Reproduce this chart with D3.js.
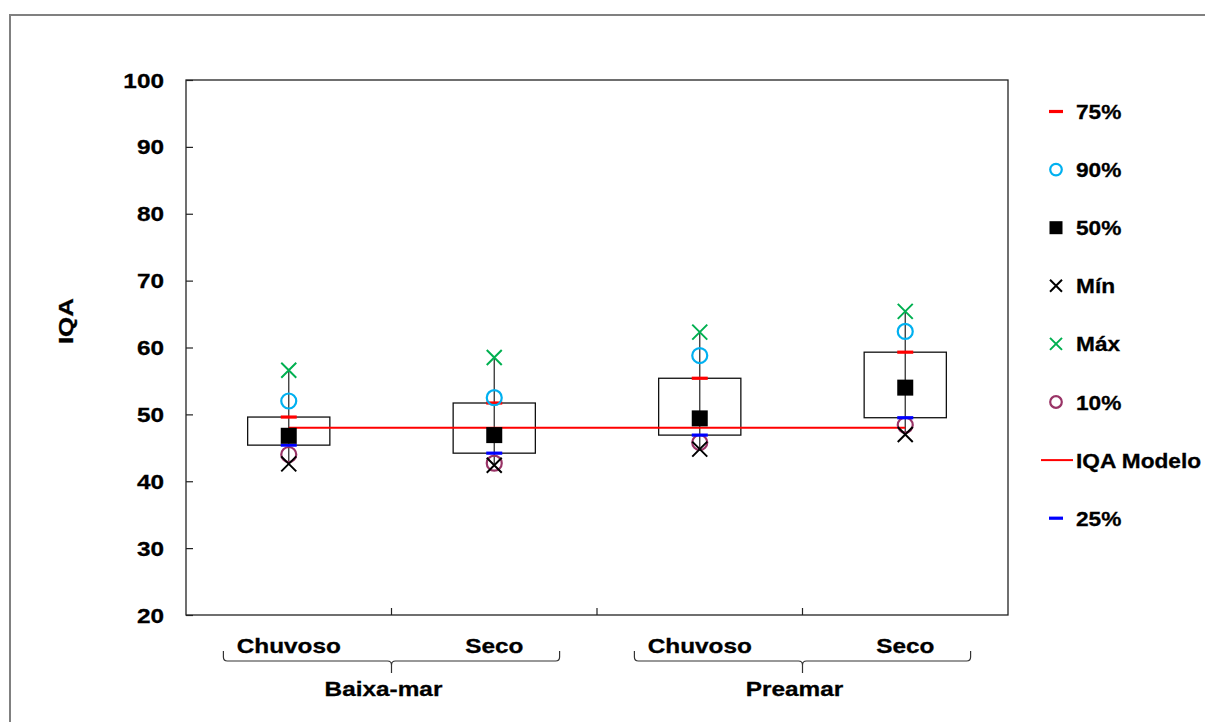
<!DOCTYPE html>
<html>
<head>
<meta charset="utf-8">
<script src="https://cdn.jsdelivr.net/npm/d3@7/dist/d3.min.js"></script>
<style>
  html, body { margin: 0; padding: 0; background: #ffffff; }
  svg { display: block; }
  text { font-family: "Liberation Sans", Arial, sans-serif; font-weight: bold; fill: #000;
         stroke: #000; stroke-width: 0.3px; }
</style>
</head>
<body>
<svg id="chart" width="1205" height="722"></svg>
<script>
// Seasons per tide condition
const categories = ["Chuvoso", "Seco", "Chuvoso", "Seco"];
const groups = ["Baixa-mar", "Preamar"];
const yTicks = [20, 30, 40, 50, 60, 70, 80, 90, 100];

// Percentile statistics of IQA for each season
const p75 = [49.6, 51.7, 55.4, 59.3];
const p90 = [52.0, 52.5, 58.8, 62.4];
const p50 = [46.8, 46.9, 49.4, 54.0];
const vMin = [42.6, 42.4, 44.8, 47.0];
const vMax = [56.6, 58.5, 62.3, 65.4];
const p10 = [44.0, 42.7, 45.8, 48.4];
const p25 = [45.4, 44.2, 46.9, 49.5];
const iqaModelo = 48.0;

const legendItems = ["75%", "90%", "50%", "Mín", "Máx", "10%", "IQA Modelo", "25%"];

const svg = d3.select("#chart");
const TX = 1.16; // horizontal stretch of labels
const FS = 21;

// outer frame
svg.append("rect")
  .attr("x", 10).attr("y", 15).attr("width", 1300).attr("height", 800)
  .attr("fill", "none").attr("stroke", "#808080").attr("stroke-width", 2);

const plotL = 186, plotR = 1008, plotT = 80, plotB = 615;
const idx = d3.range(categories.length);
const x = d3.scaleBand().domain(idx).range([plotL, plotR]).padding(0);
const y = d3.scaleLinear().domain([20, 100]).range([plotB, plotT]);
const cx = i => x(i) + x.bandwidth() / 2;

// plot frame
svg.append("rect")
  .attr("x", plotL).attr("y", plotT).attr("width", plotR - plotL).attr("height", plotB - plotT)
  .attr("fill", "none").attr("stroke", "#222").attr("stroke-width", 1.3);

// y axis with inward ticks
const yAxis = svg.append("g").attr("transform", `translate(${plotL},0)`)
  .call(d3.axisRight(y).tickValues(yTicks).tickSize(7).tickFormat(""));
yAxis.select(".domain").remove();
yAxis.selectAll("line").attr("stroke", "#222").attr("stroke-width", 1.2);

yTicks.forEach(t => {
  svg.append("g").attr("transform", `translate(164,${y(t)}) scale(${TX},1)`)
    .append("text").attr("text-anchor", "end").attr("dy", "0.36em")
    .attr("font-size", FS).text(t);
});

// y title
svg.append("g").attr("transform", "translate(66,321) rotate(-90) scale(1.3,1)")
  .append("text").attr("text-anchor", "middle").attr("dy", "0.36em")
  .attr("font-size", 20).text("IQA");

// x ticks at category boundaries, pointing up
idx.slice(1).forEach(i => {
  svg.append("line")
    .attr("x1", x(i)).attr("x2", x(i)).attr("y1", plotB).attr("y2", plotB - 7)
    .attr("stroke", "#222").attr("stroke-width", 1.2);
});

// category labels
idx.forEach(i => {
  svg.append("g").attr("transform", `translate(${cx(i)},653) scale(${TX},1)`)
    .append("text").attr("text-anchor", "middle").attr("font-size", FS).text(categories[i]);
});

// group braces and labels
groups.forEach((g, gi) => {
  const mid = x(gi * 2 + 1);
  const half = x.bandwidth() * 0.818;
  const x0 = mid - half, x1 = mid + half;
  const yb = 661, r = 4;
  const path = d3.path();
  path.moveTo(x0, 651);
  path.lineTo(x0, yb - r);
  path.quadraticCurveTo(x0, yb, x0 + r, yb);
  path.lineTo(mid - r, yb);
  path.quadraticCurveTo(mid, yb, mid, yb + r);
  path.lineTo(mid, 673);
  path.moveTo(mid, yb + r);
  path.quadraticCurveTo(mid, yb, mid + r, yb);
  path.lineTo(x1 - r, yb);
  path.quadraticCurveTo(x1, yb, x1, yb - r);
  path.lineTo(x1, 651);
  svg.append("path").attr("d", path.toString())
    .attr("fill", "none").attr("stroke", "#333").attr("stroke-width", 1.2);
  svg.append("g").attr("transform", `translate(${mid - 8},696) scale(${TX},1)`)
    .append("text").attr("text-anchor", "middle").attr("font-size", FS).text(g);
});

const bw = x.bandwidth() * 0.4;

// boxes (25% - 75%)
svg.append("g").selectAll("rect").data(idx).join("rect")
  .attr("x", i => cx(i) - bw / 2).attr("width", bw)
  .attr("y", i => y(p75[i])).attr("height", i => y(p25[i]) - y(p75[i]))
  .attr("fill", "none").attr("stroke", "#111").attr("stroke-width", 1.3);

// whiskers min - max
svg.append("g").selectAll("line").data(idx).join("line")
  .attr("x1", cx).attr("x2", cx)
  .attr("y1", i => y(vMin[i])).attr("y2", i => y(vMax[i]))
  .attr("stroke", "#333").attr("stroke-width", 1.3);

// IQA model reference line
svg.append("line")
  .attr("x1", cx(0)).attr("x2", cx(idx.length - 1))
  .attr("y1", y(iqaModelo)).attr("y2", y(iqaModelo))
  .attr("stroke", "#ff0000").attr("stroke-width", 2.2);

// marker helpers
function dash(g, px, py, w, color) {
  g.append("line").attr("x1", px - w / 2).attr("x2", px + w / 2)
    .attr("y1", py).attr("y2", py).attr("stroke", color).attr("stroke-width", 3.2);
}
function ring(g, px, py, r, color) {
  g.append("circle").attr("cx", px).attr("cy", py).attr("r", r)
    .attr("fill", "none").attr("stroke", color).attr("stroke-width", 2.2);
}
function square(g, px, py, s) {
  g.append("rect").attr("x", px - s / 2).attr("y", py - s / 2)
    .attr("width", s).attr("height", s).attr("fill", "#000");
}
function cross(g, px, py, s, color) {
  const h = s / 2;
  g.append("path").attr("d", `M${px - h},${py - h}L${px + h},${py + h}M${px - h},${py + h}L${px + h},${py - h}`)
    .attr("stroke", color).attr("stroke-width", 2).attr("fill", "none");
}

const C75 = "#ff0000", C25 = "#0000ff", C90 = "#00b0f0", CMAX = "#00b050", C10 = "#993366", CMIN = "#000000";
const marks = svg.append("g");
idx.forEach(i => {
  const px = cx(i);
  ring(marks, px, y(p10[i]), 7.5, C10);
  cross(marks, px, y(vMin[i]), 15, CMIN);
  dash(marks, px, y(p25[i]), 16, C25);
  square(marks, px, y(p50[i]), 16);
  dash(marks, px, y(p75[i]), 16, C75);
  ring(marks, px, y(p90[i]), 7.5, C90);
  cross(marks, px, y(vMax[i]), 15, CMAX);
});

// legend
const legend = svg.append("g");
legendItems.forEach((name, k) => {
  const ly = 111.5 + k * 58.1;
  const lx = 1056;
  if (name === "75%") dash(legend, lx, ly, 14, C75);
  if (name === "25%") dash(legend, lx, ly, 14, C25);
  if (name === "90%") ring(legend, lx, ly, 5.8, C90);
  if (name === "10%") ring(legend, lx, ly, 5.8, C10);
  if (name === "50%") square(legend, lx, ly, 13);
  if (name === "Mín") cross(legend, lx, ly, 12, CMIN);
  if (name === "Máx") cross(legend, lx, ly, 12, CMAX);
  if (name === "IQA Modelo") legend.append("line").attr("x1", 1041).attr("x2", 1073)
    .attr("y1", ly).attr("y2", ly).attr("stroke", C75).attr("stroke-width", 2);
  legend.append("g").attr("transform", `translate(1076,${ly}) scale(1.08,1)`)
    .append("text").attr("dy", "0.36em").attr("font-size", FS).text(name);
});
</script>
</body>
</html>
